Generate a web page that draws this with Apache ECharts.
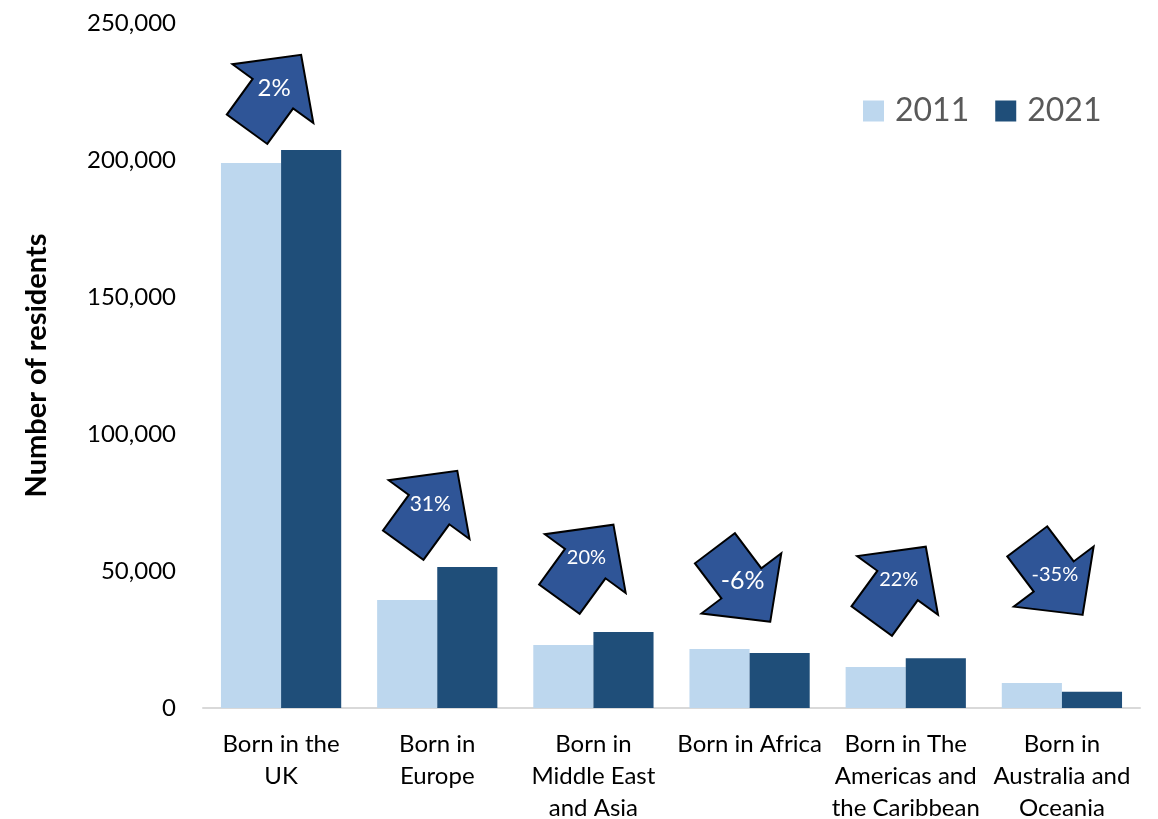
<!DOCTYPE html>
<html>
<head>
<meta charset="utf-8">
<script src="https://cdn.jsdelivr.net/npm/echarts@6/dist/echarts.min.js"></script>
<style>
html, body { margin: 0; padding: 0; background: #fff; }
#chart { width: 1158px; height: 819px; }
</style>
</head>
<body>
<div id="chart"></div>
<script>
// categories and values
var categories = [
    'Born in the\nUK',
    'Born in\nEurope',
    'Born in\nMiddle East\nand Asia',
    'Born in Africa',
    'Born in The\nAmericas and\nthe Caribbean',
    'Born in\nAustralia and\nOceania'
]
var values2011 = [198900, 39400, 23000, 21500, 15000, 9100]
var values2021 = [203650, 51500, 27700, 20100, 18200, 5900]
// percent change shown in the arrows, and the height the arrow sits at
var changeLabels = ['2%', '31%', '20%', '-6%', '22%', '-35%']
var changeSign = [1, 1, 1, -1, 1, -1]
var arrowLevel = [224800, 73000, 53300, 44900, 45300, 47400]
var yTicks = [0, 50000, 100000, 150000, 200000, 250000]

var font = 'Lato, Carlito, "Noto Sans", sans-serif'
var arrowPath = 'path://M50 0 L100 48 L75 48 L75 92 L25 92 L25 48 L0 48 Z'
var arrowFont = [24, 21, 20, 25, 20, 20]

var chart = echarts.init(document.getElementById('chart'))

var arrowData = arrowLevel.map(function (v, i) {
    return {
        value: [i, v],
        symbolRotate: changeSign[i] > 0 ? -36 : -143,
        label: { formatter: changeLabels[i], fontSize: arrowFont[i] }
    }
})

chart.setOption({
    animation: false,
    grid: {
        left: 203,
        right: 18,
        top: 23,
        bottom: 111,
        outerBoundsMode: 'none',
        containLabel: false
    },
    legend: {
        data: ['2011', '2021'],
        left: 858,
        top: 90,
        icon: 'rect',
        itemWidth: 21,
        itemHeight: 21,
        itemGap: 26,
        textStyle: {
            fontFamily: font,
            fontSize: 32,
            color: '#595959',
            padding: [0, 0, 0, 6]
        }
    },
    xAxis: {
        type: 'category',
        data: categories,
        axisTick: { show: false },
        axisLine: { lineStyle: { color: '#D9D9D9', width: 2 } },
        axisLabel: {
            interval: 0,
            margin: 20,
            fontFamily: font,
            fontSize: 24,
            lineHeight: 32,
            color: '#000'
        }
    },
    yAxis: {
        type: 'value',
        min: yTicks[0],
        max: yTicks[yTicks.length - 1],
        interval: yTicks[1] - yTicks[0],
        name: 'Number of residents',
        nameLocation: 'middle',
        nameGap: 152,
        nameTextStyle: {
            fontFamily: font,
            fontSize: 29,
            fontWeight: 'bold',
            color: '#000'
        },
        splitLine: { show: false },
        axisLine: { show: false },
        axisTick: { show: false },
        axisLabel: {
            margin: 27,
            fontFamily: font,
            fontSize: 24,
            color: '#000',
            formatter: function (v) { return v.toLocaleString('en-GB') }
        }
    },
    series: [
        {
            name: '2011',
            type: 'bar',
            data: values2011,
            barGap: 0,
            barCategoryGap: '23%',
            itemStyle: { color: '#BDD7EE' }
        },
        {
            name: '2021',
            type: 'bar',
            data: values2021,
            itemStyle: { color: '#1F4E79' }
        },
        {
            name: 'change',
            type: 'scatter',
            data: arrowData,
            symbol: arrowPath,
            symbolSize: [100, 92],
            symbolOffset: [-7, 0],
            z: 5,
            itemStyle: {
                color: '#2F5597',
                borderColor: '#000',
                borderWidth: 2,
                opacity: 1
            },
            label: {
                show: true,
                position: 'inside',
                offset: [0, -4],
                color: '#fff',
                fontFamily: font
            }
        }
    ]
})
</script>
</body>
</html>
